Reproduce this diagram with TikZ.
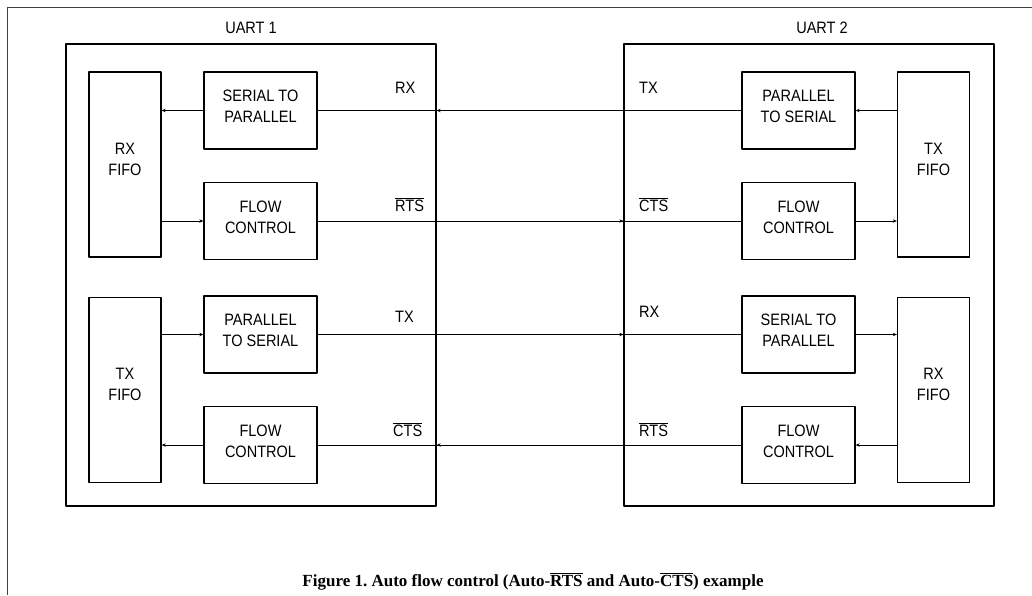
\documentclass[tikz,border=0pt]{standalone}
\usepackage{fontspec}
\setmainfont{Liberation Serif}
\newfontfamily\boxfont[FakeStretch=0.88]{Liberation Sans}
\usetikzlibrary{arrows.meta,positioning}
\tikzset{
	blk/.style={draw, line width=1.3pt, minimum width=113pt, minimum height=77pt, inner sep=0pt, text depth=8pt, align=center},
	fifo/.style={draw, line width=1.3pt, minimum width=72pt, minimum height=185pt, inner sep=0pt, text depth=11pt, align=center},
	uart/.style={draw, line width=1.3pt, minimum width=370pt, minimum height=462pt},
	sig/.style={line width=0.9pt},
	lbl/.style={inner sep=0pt},
}
\begin{document}
\begin{tikzpicture}[x=1pt, y=-1pt, line join=round, >={Stealth[length=4pt,width=3.4pt]},
	font=\boxfont\fontsize{16.5}{21}\selectfont]
		\useasboundingbox (0,0) rectangle (1032,595);
		%\draw[color=gray!50,dashed] (0,0) grid[step=50] (1032,595);
		\draw[line width=1pt, black!75] (7,595) -- (7,7) -- (1032,7);
		% the two uarts
		\node[uart] (uart1) at (251,275) {};
		\node[uart] (uart2) at (809,275) {};
		\node[lbl, anchor=base] (name1) at (251,33) {UART 1};
		\node[lbl, anchor=base] (name2) at (822,33) {UART 2};
		% uart 1
		\node[fifo] (rxf1) at (125,164.5) {RX\\FIFO};
		\node[fifo] (txf1) at (125,390) {TX\\FIFO};
		\node[blk] (s2p1) at (260.5,110.5) {SERIAL TO\\PARALLEL};
		\node[blk] (fc1) at (260.5,221) {FLOW\\CONTROL};
		\node[blk] (p2s1) at (260.5,334.5) {PARALLEL\\TO SERIAL};
		\node[blk] (fc1b) at (260.5,445) {FLOW\\CONTROL};
		% uart 2
		\node[blk] (p2s2) at (798.5,110.5) {PARALLEL\\TO SERIAL};
		\node[blk] (fc2) at (798.5,221) {FLOW\\CONTROL};
		\node[blk] (s2p2) at (798.5,334.5) {SERIAL TO\\PARALLEL};
		\node[blk] (fc2b) at (798.5,445) {FLOW\\CONTROL};
		\node[fifo] (txf2) at (933.5,164.5) {TX\\FIFO};
		\node[fifo] (rxf2) at (933.5,390) {RX\\FIFO};
		% inside the uarts
		\draw[sig,->] (s2p1.west) -- (s2p1.west -| rxf1.east);
		\draw[sig,->] (fc1.west -| rxf1.east) -- (fc1.west);
		\draw[sig,->] (p2s1.west -| txf1.east) -- (p2s1.west);
		\draw[sig,->] (fc1b.west) -- (fc1b.west -| txf1.east);
		\draw[sig,->] (p2s2.east -| txf2.west) -- (p2s2.east);
		\draw[sig,->] (fc2.east) -- (fc2.east -| txf2.west);
		\draw[sig,->] (s2p2.east) -- (s2p2.east -| rxf2.west);
		\draw[sig,->] (fc2b.east -| rxf2.west) -- (fc2b.east);
		% the lines between the uarts
		\draw[sig] (p2s2.west) -- (s2p1.east);
		\draw[sig,->] (p2s2.west) -- (p2s2.west -| uart1.east);
		\draw[sig] (fc1.east) -- (fc2.west);
		\draw[sig,->] (fc1.east) -- (fc1.east -| uart2.west);
		\draw[sig] (p2s1.east) -- (s2p2.west);
		\draw[sig,->] (p2s1.east) -- (p2s1.east -| uart2.west);
		\draw[sig] (fc2b.west) -- (fc1b.east);
		\draw[sig,->] (fc2b.west) -- (fc2b.west -| uart1.east);
		% signal names
		\node[lbl, anchor=base west] (rx1) at (395,93) {RX};
		\node[lbl, anchor=base west] (rts1) at (395,211) {$\overline{\mbox{RTS}}$};
		\node[lbl, anchor=base west] (tx1) at (395,322) {TX};
		\node[lbl, anchor=base west] (cts1) at (393,436) {$\overline{\mbox{CTS}}$};
		\node[lbl, anchor=base west] (tx2) at (639,93) {TX};
		\node[lbl, anchor=base west] (cts2) at (639,211) {$\overline{\mbox{CTS}}$};
		\node[lbl, anchor=base west] (rx2) at (639,317) {RX};
		\node[lbl, anchor=base west] (rts2) at (639,436) {$\overline{\mbox{RTS}}$};
		% caption
		\node[lbl, anchor=base, font=\rmfamily\bfseries\fontsize{17}{20}\selectfont\frenchspacing] (cap) at (533,586)
		{Figure 1. Auto flow control (Auto-$\overline{\mbox{RTS}}$ and Auto-$\overline{\mbox{CTS}}$) example};
	\end{tikzpicture}
\end{document}
